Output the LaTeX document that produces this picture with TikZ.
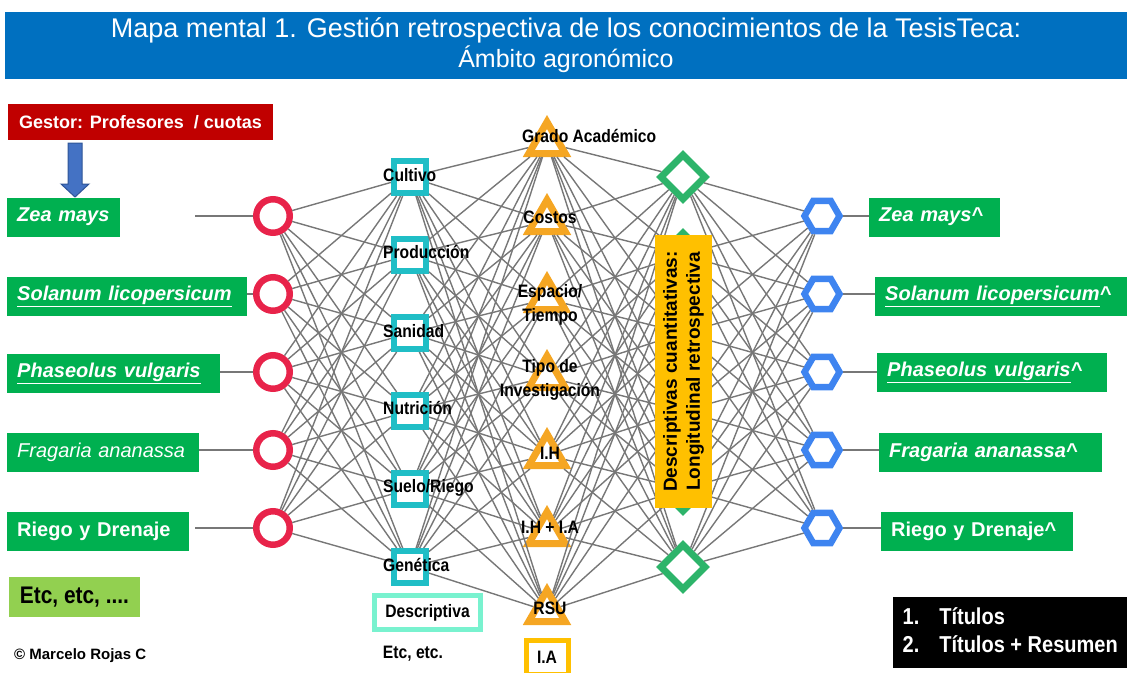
\documentclass[tikz,border=0pt]{standalone}
\usepackage{fontspec}
\setmainfont{Liberation Sans}
\newfontfamily\narrowsans[FakeStretch=0.87]{Liberation Sans}
\usepackage{xcolor}
\usetikzlibrary{shapes.geometric}

\definecolor{titleblue}{HTML}{0070C0}
\definecolor{gestred}{HTML}{C00000}
\definecolor{arrowblue}{HTML}{4472C4}
\definecolor{arrowedge}{HTML}{2F5597}
\definecolor{boxgreen}{HTML}{00B050}
\definecolor{etcgreen}{HTML}{92D050}
\definecolor{neured}{HTML}{E8234A}
\definecolor{sqteal}{HTML}{20BEC6}
\definecolor{triorange}{HTML}{F5A623}
\definecolor{diagreen}{HTML}{2DB46A}
\definecolor{hexblue}{HTML}{3E84F0}
\definecolor{boxorange}{HTML}{FFC000}
\definecolor{aqua}{HTML}{79F2CF}
\definecolor{linkgray}{HTML}{777777}

\begin{document}
\begin{tikzpicture}[x=1pt,y=-1pt,
  link/.style={draw=linkgray,line width=1.4pt},
  neu/.style={circle,draw=neured,line width=6.5pt,fill=white,minimum size=33.5pt,inner sep=0pt},
  sq/.style={rectangle,draw=sqteal,line width=6pt,fill=white,minimum size=32pt,inner sep=0pt},
  tri/.style={regular polygon,regular polygon sides=3,draw=triorange,line width=7pt,fill=white,minimum size=42pt,inner sep=0pt},
  dia/.style={regular polygon,regular polygon sides=4,shape border rotate=45,draw=diagreen,line width=7pt,fill=white,minimum size=44pt,inner sep=0pt},
  hex/.style={regular polygon,regular polygon sides=6,draw=hexblue,line width=6.5pt,fill=white,minimum size=35pt,inner sep=0pt},
  spbox/.style={fill=boxgreen,text=white,anchor=west,inner xsep=10pt,minimum height=39pt,align=left,font=\fontsize{20}{24}\selectfont\bfseries\itshape},
  lbl/.style={font=\narrowsans\fontsize{18}{24}\selectfont\bfseries,inner sep=0pt,align=center},
]
\useasboundingbox (0,0) rectangle (1127,672);

\node[fill=titleblue,text=white,minimum width=1122pt,minimum height=67pt,align=center,font=\fontsize{27}{30}\selectfont] (title) at (566,45)
  {Mapa mental 1. Gestión retrospectiva de los conocimientos de la TesisTeca:\\{\fontsize{25}{30}\selectfont Ámbito agronómico}};

% capas
\foreach \i in {1,...,5} \node[neu] (c\i) at (273,{138+78*\i}) {};
\foreach \i in {1,...,6} \node[sq] (s\i) at (410,{99+78*\i}) {};
\foreach \i in {1,...,7} \node[tri] (t\i) at (547,{65+78*\i}) {};
\foreach \i in {1,...,6} \node[dia] (d\i) at (683,{99+78*\i}) {};
\foreach \i in {1,...,5} \node[hex] (h\i) at (822,{138+78*\i}) {};

\foreach \i in {1,...,5} \foreach \j in {1,...,6} \draw[link] (c\i) -- (s\j);
\foreach \i in {1,...,6} \foreach \j in {1,...,7} \draw[link] (s\i) -- (t\j);
\foreach \i in {1,...,7} \foreach \j in {1,...,6} \draw[link] (t\i) -- (d\j);
\foreach \i in {1,...,6} \foreach \j in {1,...,5} \draw[link] (d\i) -- (h\j);

\foreach \i in {1,...,5} {
  \coordinate (in\i) at (195,{138+78*\i});
  \draw[link] (in\i) -- (c\i);
}

% entradas
\node[spbox,text width=93pt] (zea) at (7,217) {Zea mays};
\node[spbox,text width=220pt] (sol) at (7,296) {\underline{Solanum licopersicum}};
\node[spbox,text width=193pt] (pha) at (7,373) {\underline{Phaseolus vulgaris}};
\node[spbox,text width=172pt,font=\fontsize{20}{24}\selectfont\itshape] (fra) at (7,452) {Fragaria ananassa};
\node[spbox,text width=162pt,font=\fontsize{20}{24}\selectfont\bfseries] (rie) at (7,531) {Riego y Drenaje};

% salidas
\node[spbox,text width=111pt] (zea2) at (869,217) {Zea mays\textasciicircum};
\node[spbox,text width=232pt] (sol2) at (875,296) {\underline{Solanum licopersicum}\textasciicircum};
\node[spbox,text width=210pt] (pha2) at (877,372) {\underline{Phaseolus vulgaris}\textasciicircum};
\node[spbox,text width=203pt] (fra2) at (879,452) {Fragaria ananassa\textasciicircum};
\node[spbox,text width=172pt,font=\fontsize{20}{24}\selectfont\bfseries] (rie2) at (881,531) {Riego y Drenaje\textasciicircum};
\draw[link] (h1) -- (h1 -| zea2.west);
\draw[link] (h2) -- (h2 -| sol2.west);
\draw[link] (h3) -- (h3 -| pha2.west);
\draw[link] (h4) -- (h4 -| fra2.west);
\draw[link] (h5) -- (h5 -| rie2.west);

\node[fill=gestred,text=white,minimum width=265pt,minimum height=36pt,inner sep=0pt,font=\fontsize{18}{22}\selectfont\bfseries] (gestor) at (140.5,122) {Gestor: Profesores~ / cuotas};
\draw[draw=arrowedge,fill=arrowblue,line width=1pt] (68,143) -- (82,143) -- (82,184) -- (89,184) -- (75,197) -- (61,184) -- (68,184) -- cycle;

\node[fill=etcgreen,minimum width=131pt,minimum height=40pt,inner sep=0pt,font=\narrowsans\fontsize{24}{26}\selectfont\bfseries] (etc) at (74.5,597) {Etc, etc, ....};
\node[anchor=west,inner sep=0pt,font=\fontsize{15}{18}\selectfont\bfseries] (autor) at (14,656) {© Marcelo Rojas C};

% etiquetas
\foreach \i/\txt/\y in {1/Cultivo/175,2/Producción/252,3/Sanidad/331,4/Nutrición/408,5/{Suelo/Riego}/488,6/Genética/565}
  \node[lbl,anchor=west] (ls\i) at (383,\y) {\txt};
\node[lbl,anchor=west] (lt1) at (522,136) {Grado Académico};
\foreach \i/\txt/\y in {2/Costos/217,3/{Espacio/\\Tiempo}/305,4/{Tipo de\\Investigación}/380,5/I.H/453,6/I.H + I.A/527,7/RSU/608}
  \node[lbl] (lt\i) at (550,\y) {\txt};

\node[fill=boxorange,rotate=90,minimum width=273pt,minimum height=57pt,inner sep=0pt,align=center,font=\fontsize{19}{23}\selectfont\bfseries] (desc) at (683.5,371.5)
  {Descriptivas cuantitativas:\\Longitudinal retrospectiva};

\node[draw=aqua,line width=5pt,fill=white,minimum width=106pt,minimum height=34pt,inner sep=0pt,font=\narrowsans\fontsize{18}{20}\selectfont\bfseries] (descr) at (427.5,612.5) {Descriptiva};
\node[inner sep=0pt,font=\narrowsans\fontsize{18}{20}\selectfont\bfseries] (etc2) at (413,654) {Etc, etc.};
\node[draw=boxorange,line width=5pt,fill=white,minimum width=42pt,minimum height=34pt,inner sep=0pt,font=\narrowsans\fontsize{18}{20}\selectfont\bfseries] (ia) at (547,657) {I.A};

\node[fill=black,text=white,anchor=north west,minimum width=234pt,minimum height=71pt,inner sep=0pt,font=\narrowsans\fontsize{23}{28}\selectfont\bfseries] (tipos) at (893,597)
  {\begin{tabular}{@{}l@{\hspace{20pt}}l@{}}1.&Títulos\\2.&Títulos + Resumen\end{tabular}};
\end{tikzpicture}
\end{document}
